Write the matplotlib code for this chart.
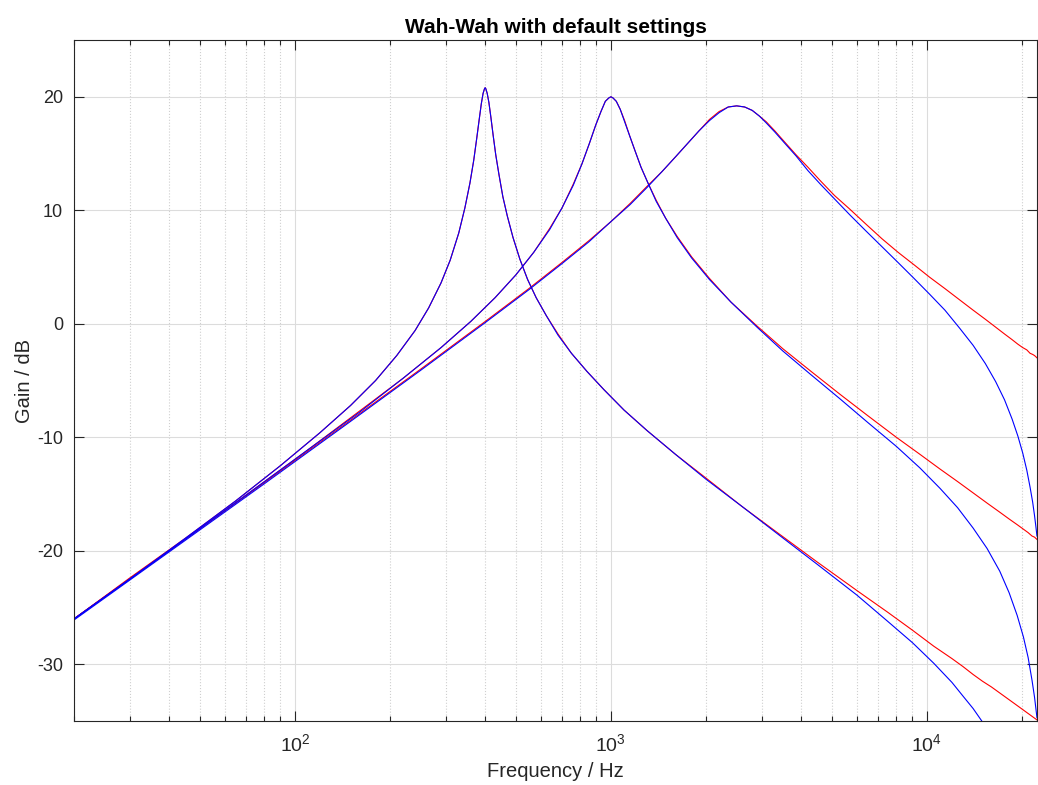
import numpy as np
import matplotlib.pyplot as plt
from matplotlib.ticker import LogLocator, NullFormatter

plt.rcParams['font.family'] = ['Liberation Sans', 'DejaVu Sans']
plt.rcParams['axes.unicode_minus'] = False

# =========================
# DATA
# =========================
freq_400 = [20, 30, 45, 65, 90, 120, 150, 180, 210, 240, 265, 290, 310, 330, 345,
            358, 368, 376, 383, 389, 394, 398, 400, 402, 406, 411, 417, 424, 432, 442,
            455, 470, 490, 515, 545, 580, 625, 680, 750, 840, 950, 1100, 1300, 1600, 2000,
            2600, 3400, 4500, 6000, 7500, 9000, 10500, 12000, 13000, 14000, 15000, 16000, 19000, 22291]
analog_400 = [-26.0, -22.4, -18.9, -15.6, -12.5, -9.6, -7.2, -5.0, -2.8, -0.6, 1.4, 3.6, 5.6, 8.0, 10.2,
              12.4, 14.4, 16.3, 18.0, 19.4, 20.3, 20.7, 20.8, 20.7, 20.3, 19.5, 18.2, 16.6, 14.9, 13.2,
              11.2, 9.5, 7.6, 5.7, 3.9, 2.3, 0.7, -0.9, -2.6, -4.2, -5.8, -7.6, -9.4, -11.5, -13.6,
              -16.1, -18.5, -21.0, -23.5, -25.4, -27.0, -28.4, -29.5, -30.2, -30.9, -31.5, -32.0, -33.5, -34.9]
digital_400 = [-26.0, -22.5, -18.9, -15.6, -12.5, -9.6, -7.2, -5.0, -2.8, -0.6, 1.4, 3.6, 5.6, 8.0, 10.2,
               12.4, 14.4, 16.3, 18.0, 19.4, 20.3, 20.7, 20.8, 20.7, 20.3, 19.5, 18.2, 16.6, 14.9, 13.2,
               11.2, 9.5, 7.6, 5.7, 3.9, 2.3, 0.7, -1.0, -2.6, -4.2, -5.8, -7.6, -9.4, -11.5, -13.7,
               -16.1, -18.6, -21.2, -23.9, -26.2, -28.1, -29.9, -31.6, -32.8, -33.9, -35.1, -36.4, -41.0, -50.6]

freq_1000 = [20, 40, 70, 110, 160, 220, 290, 360, 430, 500, 570, 640, 700, 760, 810,
             855, 895, 930, 960, 985, 1000, 1015, 1040, 1070, 1105, 1145, 1190, 1245, 1310, 1390,
             1490, 1620, 1800, 2050, 2400, 2900, 3500, 4300, 5300, 6500, 8000, 9500, 11000, 12500, 14000,
             15500, 17000, 18200, 19300, 20200, 20900, 21500, 21900, 22291]
analog_1000 = [-26.0, -20.0, -15.1, -11.1, -7.7, -4.8, -2.1, 0.2, 2.3, 4.3, 6.3, 8.4, 10.2, 12.3, 14.1,
               15.9, 17.5, 18.7, 19.6, 19.9, 20.0, 19.9, 19.6, 18.9, 17.9, 16.6, 15.3, 13.8, 12.4, 10.9,
               9.3, 7.7, 5.9, 4.0, 1.9, -0.2, -2.2, -4.2, -6.2, -8.1, -10.0, -11.5, -12.8, -13.9, -14.9,
               -15.8, -16.6, -17.2, -17.7, -18.1, -18.4, -18.7, -18.8, -19.0]
digital_1000 = [-26.0, -20.0, -15.1, -11.1, -7.8, -4.8, -2.1, 0.2, 2.3, 4.3, 6.3, 8.3, 10.2, 12.2, 14.1,
                15.9, 17.5, 18.7, 19.6, 19.9, 20.0, 19.9, 19.6, 18.9, 17.8, 16.6, 15.3, 13.8, 12.4, 10.8,
                9.3, 7.6, 5.8, 3.9, 1.9, -0.3, -2.4, -4.5, -6.6, -8.7, -10.8, -12.7, -14.5, -16.2, -18.0,
                -19.8, -21.8, -23.7, -25.7, -27.6, -29.4, -31.4, -32.9, -34.7]

freq_2500 = [20, 40, 80, 150, 250, 400, 550, 700, 850, 1000, 1150, 1300, 1450, 1600, 1750,
             1900, 2050, 2200, 2350, 2500, 2650, 2800, 2950, 3100, 3300, 3550, 3850, 4200, 4600, 5100,
             5700, 6400, 7200, 8100, 9100, 10200, 11400, 12700, 14000, 15300, 16500, 17600, 18600, 19400, 20100,
             20700, 21200, 21600, 21900, 22100, 22291]
analog_2500 = [-26.0, -20.0, -14.0, -8.5, -4.0, 0.2, 3.1, 5.4, 7.3, 9.0, 10.6, 12.1, 13.4, 14.7, 15.9,
               17.0, 18.0, 18.7, 19.1, 19.2, 19.1, 18.8, 18.3, 17.8, 17.0, 16.0, 14.9, 13.8, 12.6, 11.3,
               10.1, 8.8, 7.5, 6.3, 5.2, 4.1, 3.1, 2.1, 1.2, 0.4, -0.3, -0.9, -1.4, -1.8, -2.1,
               -2.3, -2.6, -2.7, -2.8, -2.9, -3.0]
digital_2500 = [-26.1, -20.1, -14.1, -8.6, -4.1, 0.1, 3.0, 5.3, 7.2, 9.0, 10.5, 12.0, 13.4, 14.7, 15.9,
                17.0, 17.9, 18.6, 19.1, 19.2, 19.1, 18.8, 18.3, 17.7, 16.9, 15.9, 14.8, 13.5, 12.3, 11.0,
                9.6, 8.2, 6.8, 5.4, 4.0, 2.6, 1.2, -0.4, -1.9, -3.5, -5.1, -6.7, -8.4, -9.9, -11.4,
                -12.9, -14.4, -15.7, -16.9, -17.8, -18.7]

y_ticks = [-30, -20, -10, 0, 10, 20]

# =========================
# PLOT
# =========================
fig = plt.figure(figsize=(10.38, 7.85), dpi=100)
ax = fig.add_axes([0.0713, 0.0815, 0.9277, 0.8675])

# analog (red) first, digital (blue) drawn on top
for f, a in [(freq_400, analog_400), (freq_1000, analog_1000), (freq_2500, analog_2500)]:
    ax.semilogx(f, a, color='red', lw=0.8)
for f, d in [(freq_400, digital_400), (freq_1000, digital_1000), (freq_2500, digital_2500)]:
    ax.semilogx(f, d, color='blue', lw=0.8)

ax.set_xlim(20, 22291)
ax.set_ylim(-35, 25)
ax.set_yticks(y_ticks)
ax.xaxis.set_major_locator(LogLocator(base=10, numticks=10))
ax.xaxis.set_minor_locator(LogLocator(base=10, subs=np.arange(2, 10), numticks=50))
ax.xaxis.set_minor_formatter(NullFormatter())

ax.grid(True, which='major', color='#dcdcdc', lw=0.8, ls='-')
ax.grid(True, which='minor', axis='x', color='#cfcfcf', lw=0.8, ls=':')
ax.set_axisbelow(True)

for s in ax.spines.values():
    s.set_color('#262626')
    s.set_linewidth(0.8)
ax.tick_params(which='both', direction='in', top=True, right=True, colors='#262626',
               labelsize=13, labelcolor='#262626')
ax.tick_params(which='major', length=7, width=0.8, pad=8)
ax.tick_params(which='minor', length=3.5, width=0.8)
ax.tick_params(axis='x', which='major', labelsize=14, pad=9)

ax.set_title("Wah-Wah with default settings", fontsize=15, fontweight='bold', pad=5)
ax.set_xlabel("Frequency / Hz", fontsize=14.5, color='#262626', labelpad=5)
ax.set_ylabel("Gain / dB", fontsize=14.5, color='#262626', labelpad=2)

fig.savefig("out.png", dpi=100)
